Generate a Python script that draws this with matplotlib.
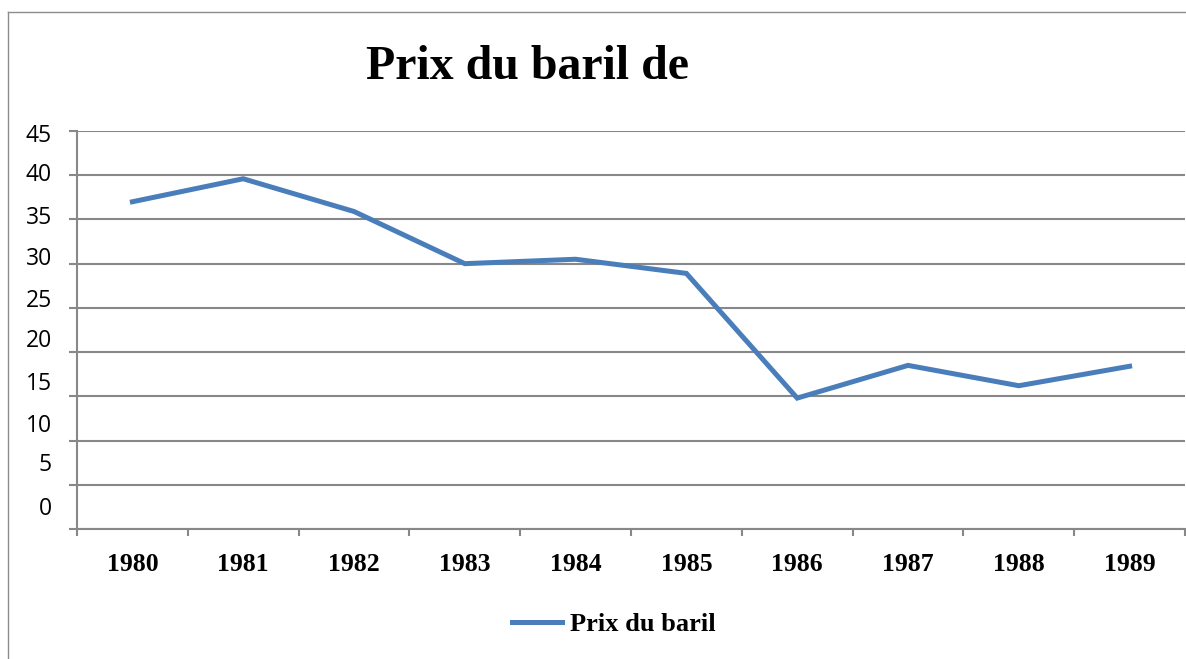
import matplotlib
matplotlib.use("Agg")
import matplotlib.pyplot as plt
from matplotlib.lines import Line2D
from matplotlib.transforms import blended_transform_factory

years = ['1980', '1981', '1982', '1983', '1984', '1985', '1986', '1987', '1988', '1989']
prices = [37.0, 39.6, 35.9, 30.0, 30.5, 28.9, 14.8, 18.5, 16.2, 18.4]
y_ticks = [0, 5, 10, 15, 20, 25, 30, 35, 40, 45]
# where the y labels sit in the original (they drift away from the gridlines)
y_label_pos = [2.3, 7.2, 11.7, 16.4, 21.2, 25.8, 30.5, 35.2, 40.0, 44.4]

grid_col = '#888888'
line_col = '#4a7ebb'

fig = plt.figure(figsize=(11.86, 6.59), dpi=100)
ax = fig.add_axes([77 / 1186, 1 - 529 / 659, 1108 / 1186, 398 / 659])

x = list(range(len(years)))
ax.plot(x, prices, color=line_col, linewidth=3.6, solid_joinstyle='miter',
        label='Prix du baril', zorder=3)

ax.set_xlim(-0.5, len(years) - 0.5)
ax.set_ylim(0, 45)

# gridlines
ax.set_yticks(y_ticks)
ax.set_yticklabels([])
ax.yaxis.grid(True, color=grid_col, linewidth=1.5)
ax.tick_params(axis='y', length=6, width=1.5, color=grid_col, direction='out')

# category boundaries as ticks, names in the middle
ax.set_xticks([i - 0.5 for i in range(len(years) + 1)])
ax.set_xticklabels([])
ax.set_xticks(x, minor=True)
ax.set_xticklabels(years, minor=True, family='Liberation Serif',
                   fontweight='bold', fontsize=18.5)
ax.tick_params(axis='x', which='major', length=5, width=1.5, color=grid_col)
ax.tick_params(axis='x', which='minor', length=0, pad=17)

for s in ['top', 'right']:
    ax.spines[s].set_visible(False)
for s in ['left', 'bottom']:
    ax.spines[s].set_color(grid_col)
    ax.spines[s].set_linewidth(1.5)

trans = blended_transform_factory(fig.transFigure, ax.transData)
for v, pos in zip(y_ticks, y_label_pos):
    fig.text(52 / 1186, pos, str(v), transform=trans, ha='right', va='center',
             family='Open Sans', fontsize=16.5, color='#000000')

fig.text(527 / 1186, 1 - 79 / 659, 'Prix du baril de', ha='center', va='baseline',
         family='Liberation Serif', fontweight='bold', fontsize=34.5)

fig.legend(loc='center', bbox_to_anchor=(614 / 1186, 1 - 624 / 659), frameon=False,
           handlelength=1.9, handletextpad=0.3, borderpad=0,
           prop=dict(family='Liberation Serif', weight='bold', size=19))

# outer chart border (left and top)
fig.add_artist(Line2D([8 / 1186, 8 / 1186], [0, 1 - 12 / 659], color='#8c8c8c',
                      linewidth=1.0, transform=fig.transFigure))
fig.add_artist(Line2D([8 / 1186, 1], [1 - 12 / 659, 1 - 12 / 659], color='#8c8c8c',
                      linewidth=1.0, transform=fig.transFigure))

fig.savefig('out.png', dpi=100)
